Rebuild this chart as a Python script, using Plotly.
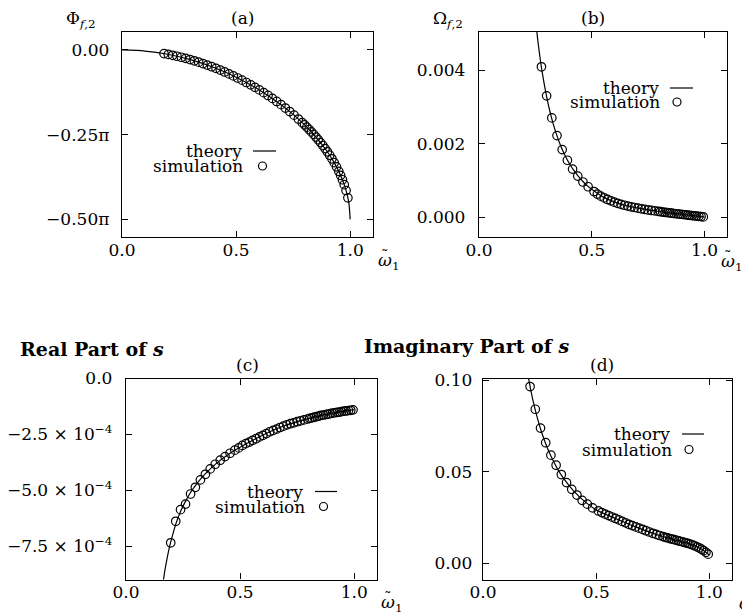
import plotly.graph_objects as go

# ---------------- data ----------------
# (a) phase Phi_{f,2} in units of pi
phi_sim_w = [0.184, 0.203, 0.222, 0.241, 0.260, 0.279, 0.298, 0.317, 0.336, 0.355,
             0.374, 0.393, 0.412, 0.431, 0.450, 0.469, 0.488, 0.507, 0.526, 0.545,
             0.564, 0.583, 0.602, 0.621, 0.640, 0.659, 0.678, 0.697, 0.716, 0.735,
             0.754, 0.773, 0.790, 0.800, 0.810, 0.820, 0.830, 0.840, 0.850, 0.860,
             0.870, 0.880, 0.890, 0.900, 0.910, 0.920, 0.930, 0.940, 0.950, 0.958,
             0.966, 0.974, 0.982, 0.990]
phi_sim = [-0.0108, -0.0131, -0.0157, -0.0185, -0.0215, -0.0248, -0.0283, -0.0320, -0.0360, -0.0402,
           -0.0447, -0.0494, -0.0543, -0.0595, -0.0649, -0.0706, -0.0765, -0.0828, -0.0892, -0.0960,
           -0.1030, -0.1104, -0.1180, -0.1260, -0.1343, -0.1430, -0.1520, -0.1615, -0.1714, -0.1817,
           -0.1925, -0.2039, -0.2145, -0.2210, -0.2278, -0.2347, -0.2419, -0.2493, -0.2570, -0.2650,
           -0.2733, -0.2820, -0.2910, -0.3005, -0.3106, -0.3212, -0.3326, -0.3449, -0.3583, -0.3700,
           -0.3830, -0.3976, -0.4147, -0.4364]
phi_th_w = [0.0, 0.1, 0.2, 0.3, 0.4, 0.5, 0.6, 0.7, 0.75, 0.8, 0.85, 0.9, 0.93, 0.95, 0.97, 0.98, 0.99, 0.995, 1.0]
phi_th = [0.0, -0.0032, -0.0127, -0.0287, -0.0512, -0.0804, -0.1172, -0.1630, -0.1902, -0.2210,
          -0.2570, -0.3005, -0.3326, -0.3583, -0.3900, -0.4101, -0.4364, -0.4550, -0.5]

# common simulation grid for (b) and (d)
sim_w = [0.208, 0.231, 0.254, 0.277, 0.300, 0.323, 0.346, 0.369, 0.392, 0.415, 0.438, 0.461, 0.484,
         0.510, 0.525, 0.540, 0.555, 0.570, 0.585, 0.600, 0.615, 0.630, 0.645,
         0.660, 0.675, 0.690, 0.705, 0.720, 0.735, 0.750, 0.765, 0.780, 0.795,
         0.805, 0.815, 0.825, 0.835, 0.845, 0.855, 0.865, 0.875, 0.885, 0.895,
         0.905, 0.915, 0.925, 0.935, 0.945, 0.955, 0.965, 0.975, 0.985, 0.995]

# (b) Omega_{f,2} in units of 1e-3 (starts at the 4th grid point)
omega_sim_w = sim_w[3:]
omega_sim = [4.09, 3.30, 2.70, 2.22, 1.84, 1.55, 1.31, 1.12, 0.96, 0.83,
             0.700, 0.630, 0.575, 0.527, 0.485, 0.447, 0.412, 0.380, 0.352, 0.327,
             0.305, 0.285, 0.266, 0.248, 0.231, 0.215, 0.200, 0.186, 0.173, 0.160,
             0.152, 0.143, 0.135, 0.127, 0.119, 0.111, 0.104, 0.097, 0.090, 0.083,
             0.076, 0.069, 0.062, 0.055, 0.048, 0.041, 0.034, 0.027, 0.019, 0.010]
omega_th_w = [0.25, 0.26, 0.27, 0.28, 0.30, 0.32, 0.34, 0.36, 0.38, 0.40, 0.42, 0.44, 0.46, 0.48,
              0.50, 0.55, 0.60, 0.65, 0.70, 0.75, 0.80, 0.85, 0.90, 0.95, 1.00]
omega_th = [5.45, 4.85, 4.37, 3.95, 3.28, 2.74, 2.32, 1.98, 1.70, 1.47, 1.28, 1.12, 0.98, 0.86,
            0.76, 0.555, 0.42, 0.32, 0.258, 0.200, 0.157, 0.116, 0.080, 0.045, 0.005]

# (c) real part of s in units of 1e-4
re_sim_w = [0.196, 0.218, 0.239, 0.261, 0.283, 0.304, 0.326, 0.348, 0.369, 0.391, 0.413, 0.434, 0.456, 0.477, 0.494,
            0.510, 0.525, 0.540, 0.555, 0.570, 0.585, 0.600, 0.615, 0.630, 0.645,
            0.660, 0.675, 0.690, 0.705, 0.720, 0.735, 0.750, 0.765, 0.780, 0.795,
            0.805, 0.815, 0.825, 0.835, 0.845, 0.855, 0.865, 0.875, 0.885, 0.895,
            0.905, 0.915, 0.925, 0.935, 0.945, 0.955, 0.965, 0.975, 0.985, 0.995]
re_sim = [-7.34, -6.38, -5.86, -5.61, -5.16, -4.86, -4.53, -4.28, -4.04, -3.83, -3.65, -3.49, -3.34, -3.20, -3.10,
          -2.99, -2.91, -2.84, -2.76, -2.69, -2.61, -2.54, -2.46, -2.38, -2.32,
          -2.26, -2.19, -2.13, -2.07, -2.02, -1.98, -1.93, -1.89, -1.85, -1.81,
          -1.78, -1.76, -1.73, -1.70, -1.68, -1.65, -1.63, -1.61, -1.59, -1.57,
          -1.55, -1.53, -1.51, -1.50, -1.48, -1.46, -1.45, -1.43, -1.42, -1.40]
re_th_w = [0.160, 0.170, 0.180, 0.190, 0.200, 0.220, 0.240, 0.260, 0.280, 0.300, 0.330, 0.360,
           0.400, 0.450, 0.500, 0.560, 0.630, 0.700, 0.780, 0.850, 0.920, 1.000]
re_th = [-9.30, -8.60, -8.05, -7.55, -7.15, -6.45, -5.92, -5.50, -5.14, -4.84, -4.45, -4.13,
         -3.76, -3.38, -3.07, -2.74, -2.38, -2.09, -1.85, -1.66, -1.52, -1.39]

# (d) imaginary part of s
im_sim = [0.0965, 0.0841, 0.0738, 0.0658, 0.0590, 0.0535, 0.0484, 0.0440, 0.0403, 0.0372, 0.0343, 0.0322, 0.0302,
          0.0285, 0.0276, 0.0268, 0.0260, 0.0252, 0.0244, 0.0236, 0.0228, 0.0220, 0.0212,
          0.0205, 0.0198, 0.0191, 0.0184, 0.0177, 0.0170, 0.0163, 0.0157, 0.0151, 0.0145,
          0.0141, 0.0138, 0.0134, 0.0131, 0.0128, 0.0125, 0.0121, 0.0118, 0.0115, 0.0111,
          0.0108, 0.0104, 0.0100, 0.0095, 0.0089, 0.0083, 0.0076, 0.0068, 0.0059, 0.0049]
im_th_w = [0.19, 0.20, 0.22, 0.24, 0.26, 0.28, 0.30, 0.33, 0.36, 0.40, 0.45, 0.50, 0.55, 0.60,
           0.65, 0.70, 0.75, 0.80, 0.85, 0.90, 0.93, 0.96, 0.98, 1.00]
im_th = [0.1092, 0.1018, 0.0894, 0.0794, 0.0711, 0.0643, 0.0585, 0.0513, 0.0456, 0.0395, 0.0336,
         0.0291, 0.0262, 0.0236, 0.0210, 0.0186, 0.0163, 0.0143, 0.0126, 0.0110, 0.0098, 0.0080,
         0.0064, 0.0044]

x_tickvals = [0.0, 0.5, 1.0]
x_ticktext = ["0.0", "0.5", "1.0"]
a_tickvals = [0.0, -0.25, -0.5]
a_ticktext = ["0.00", "\u22120.25\u03c0", "\u22120.50\u03c0"]
b_tickvals = [0.0, 2.0, 4.0]
b_ticktext = ["0.000", "0.002", "0.004"]
c_tickvals = [0.0, -2.5, -5.0, -7.5]
c_ticktext = ["0.0", "\u22122.5 \u00d7 10<sup>\u22124</sup>", "\u22125.0 \u00d7 10<sup>\u22124</sup>",
              "\u22127.5 \u00d7 10<sup>\u22124</sup>"]
d_tickvals = [0.0, 0.05, 0.10]
d_ticktext = ["0.00", "0.05", "0.10"]

# ---------------- figure ----------------
W, H = 750, 615
OFF = 8          # page body margin: positions below are given in window pixels
FONT = "DejaVu Serif"
FS = 17


def px(x):
    return (x - OFF) / W


def py(y):
    return 1 - (y - OFF) / H


fig = go.Figure()

panels = [
    ("x", "y", phi_th_w, phi_th, phi_sim_w, phi_sim),
    ("x2", "y2", omega_th_w, omega_th, omega_sim_w, omega_sim),
    ("x3", "y3", re_th_w, re_th, re_sim_w, re_sim),
    ("x4", "y4", im_th_w, im_th, sim_w, im_sim),
]
for xa, ya, tw, ty, sw, sy in panels:
    fig.add_trace(go.Scatter(x=tw, y=ty, mode="lines", xaxis=xa, yaxis=ya,
                             line=dict(color="black", width=1.2, shape="spline", smoothing=0.6),
                             name="theory", showlegend=False))
    fig.add_trace(go.Scatter(x=sw, y=sy, mode="markers", xaxis=xa, yaxis=ya,
                             marker=dict(symbol="circle-open", size=8.5, color="black",
                                         line=dict(width=1.2, color="black")),
                             name="simulation", showlegend=False))

base_axis = dict(showline=True, linecolor="black", linewidth=1.4, mirror="ticks",
                 ticks="inside", ticklen=6, tickwidth=1.2, tickcolor="black",
                 showgrid=False, zeroline=False, automargin=False,
                 tickfont=dict(family=FONT, size=FS, color="black"))


def xaxis(domain, anchor):
    d = dict(base_axis)
    d.update(domain=domain, anchor=anchor, range=[0, 1.1], tickmode="array",
             tickvals=x_tickvals, ticktext=x_ticktext, ticklabelstandoff=-3)
    return d


def yaxis(domain, anchor, rng, tv, tt, standoff):
    d = dict(base_axis)
    d.update(domain=domain, anchor=anchor, range=rng, tickmode="array",
             tickvals=tv, ticktext=tt, ticklabelstandoff=standoff)
    return d


top_dom = [py(237), py(32)]
bot_dom = [py(579.5), py(378.5)]

fig.update_layout(
    template="none",
    width=W, height=H,
    margin=dict(l=0, r=0, t=0, b=0, pad=0, autoexpand=False),
    paper_bgcolor="white", plot_bgcolor="white",
    showlegend=False,
    font=dict(family=FONT, size=FS, color="black"),
    xaxis=xaxis([px(122), px(373)], "y"),
    yaxis=yaxis(top_dom, "x", [-0.552, 0.053], a_tickvals, a_ticktext, 8),
    xaxis2=xaxis([px(479), px(727)], "y2"),
    yaxis2=yaxis(top_dom, "x2", [-0.535, 5.035], b_tickvals, b_ticktext, 9),
    xaxis3=xaxis([px(126), px(377)], "y3"),
    yaxis3=yaxis(bot_dom, "x3", [-8.98, 0.0], c_tickvals, c_ticktext, 9),
    xaxis4=xaxis([px(483), px(732)], "y4"),
    yaxis4=yaxis(bot_dom, "x4", [-0.00896, 0.1009], d_tickvals, d_ticktext, 6),
)

ann = []


def text(x, y, s, size=FS, anchor="center", family=FONT):
    ann.append(dict(x=px(x), y=py(y), xref="paper", yref="paper", text=s, showarrow=False,
                    xanchor=anchor, yanchor="middle",
                    font=dict(family=family, size=size, color="black")))


# panel letters
text(242, 18, "(a)")
text(593, 18, "(b)")
text(247, 365, "(c)")
text(602, 365, "(d)")
# y-axis labels
text(81, 19, "\u03a6<sub><i>f</i>,2</sub>")
text(448, 19, "\u03a9<sub><i>f</i>,2</sub>")
text(18, 349, "<b>Real Part of <i>s</i></b>", size=19, anchor="left")
text(362, 346, "<b>Imaginary Part of <i>s</i></b>", size=19, anchor="left")


# x-axis labels: omega with tilde, subscript 1
def omega_label(xl, yc):
    text(xl, yc, "<i>\u03c9</i><sub>1</sub>", anchor="left")
    text(xl + 9, yc - 5, "\u02dc", size=15)


omega_label(376, 261)
omega_label(719, 262)
omega_label(379, 603)
omega_label(737, 604)

# legends: (theory right edge, theory y, simulation right edge, simulation y, line x0, x1, circle x)
legends = [
    (244, 151, 245, 166, 253, 276, 262.5),
    (661, 88, 662, 102, 670, 693, 677),
    (305, 491.5, 307, 506.5, 315, 337, 323.5),
    (672, 434, 674, 449.5, 682, 704, 689),
]
shapes = []
for tx, ty_, sx, sy_, l0, l1, cx in legends:
    text(tx, ty_, "theory", anchor="right")
    text(sx, sy_, "simulation", anchor="right")
    shapes.append(dict(type="line", xref="paper", yref="paper", x0=px(l0), x1=px(l1),
                       y0=py(ty_), y1=py(ty_), line=dict(color="black", width=1.2)))
    shapes.append(dict(type="circle", xref="paper", yref="paper", x0=px(cx - 4), x1=px(cx + 4),
                       y0=py(sy_ + 4), y1=py(sy_ - 4), line=dict(color="black", width=1.2)))

fig.update_layout(annotations=ann, shapes=shapes)
fig.write_html("out.html")
